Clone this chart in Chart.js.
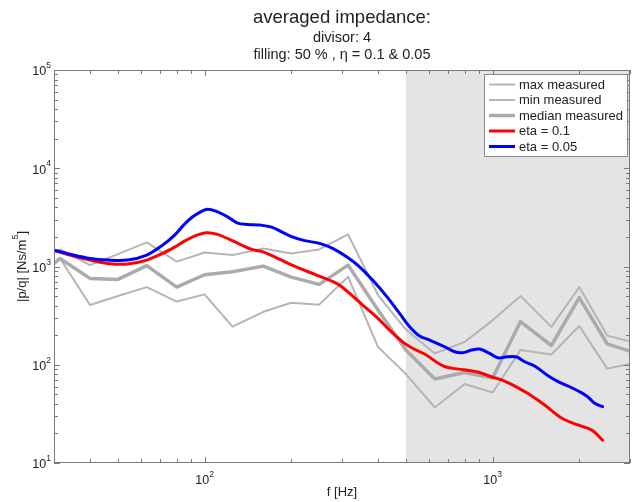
<!DOCTYPE html>
<html><head><meta charset="utf-8">
<script src="https://cdn.jsdelivr.net/npm/chart.js@4.4.1/dist/chart.umd.min.js"></script>
<style>html,body{margin:0;padding:0;background:#fff;}canvas{display:block;}</style>
</head><body>
<canvas id="c" width="633" height="502"></canvas>
<script>
// ---- data ----
const bandFreqs = [25,31.5,40,50,63,80,100,125,160,200,250,315,400,500,630,800,1000,1250,1600,2000,2500,3150];
const maxMeasured = [1033,1493,1033,1337,1758,1122,1390,1306,1528,1358,1493,2123,512,228,130,171,283,500,243,617,198,166];
const minMeasured = [693,1208,405,500,617,440,520,244,346,428,409,785,152,80.4,36.7,63.6,52.1,141,127,248,91.4,105];
const medianMeasured = [693,1208,757,739,1021,617,824,883,1009,780,658,1033,360,141,71.6,83.4,73.3,275,157,483,163,131];

const eta01Freqs = [30,34,40,46,54,63,71.5,78.7,85.2,92.3,101.6,110.9,122.1,134.5,145.7,157.7,175,194.2,213.8,244.8,287.3,318.8,353.8,395.6,438.9,486.9,527.6,580.6,676,793,887,984,1101,1221,1323,1516,1736,1973,2207,2409];
const eta01Values = [1468,1306,1162,1075,1058,1162,1360,1576,1813,2039,2202,2121,1887,1651,1493,1424,1255,1083,957,818,673,532,405,306,225,171,147,128.5,97,88.9,84.3,76.0,68.3,58.6,51.2,38.9,28.7,24.4,21.7,17.1];

const eta005Freqs = [30,34,40,46,54,63,71.5,78.7,85.2,92.3,101.6,110.9,120.2,130.2,141.1,156.5,170.9,185.1,200.5,222.4,250.7,278.3,311.2,345.3,383.1,428.5,475.5,515.1,557.9,604.3,681.3,738.1,786.7,845.6,901.5,976.3,1041,1127,1212,1292,1399,1577,1709,1851,2005,2138,2261,2409];
const eta005Values = [1468,1337,1209,1162,1162,1306,1651,2086,2700,3295,3810,3601,3203,2764,2682,2638,2517,2254,2015,1834,1718,1528,1255,993,727,496,333,243.5,196,178.4,152.5,135.6,132.5,141.1,144.4,130.6,117.8,120.6,119.8,107.3,97.0,75.5,66.2,59.7,53.1,47.3,40.5,37.4];

const xRange = [30, 3000];
const yRange = [10, 100000];
const xTickLabels = [100, 1000];
const yTickLabels = [10, 100, 1000, 10000, 100000];
const shadedRange = [500, 3000];

const titleText = 'averaged impedance:';
const subtitleLines = ['divisor: 4', 'filling: 50 % , \u03B7 = 0.1 & 0.05'];
const xAxisTitle = 'f [Hz]';
const legendLabels = ['max measured','min measured','median measured','eta = 0.1','eta = 0.05'];

// ---- styling ----
const FONT = '"Liberation Sans", Arial, Helvetica, sans-serif';
const GRAY_THIN = '#b5b5b5';
const GRAY_MED = '#ababab';
const TEXT = '#222222';
const AXIS = '#7a7a7a';

function series(label, xs, ys, color, width, tension, order) {
  return {
    label, data: xs.map((x, i) => ({x, y: ys[i]})),
    borderColor: color, backgroundColor: color, borderWidth: width,
    pointRadius: 0, pointHoverRadius: 0, tension, fill: false, clip: 0, order,
    borderJoinStyle: 'round', borderCapStyle: 'round'
  };
}

const datasets = [
  series(legendLabels[0], bandFreqs, maxMeasured, GRAY_THIN, 2, 0, 4),
  series(legendLabels[1], bandFreqs, minMeasured, GRAY_THIN, 2, 0, 3),
  series(legendLabels[2], bandFreqs, medianMeasured, GRAY_MED, 3.5, 0, 2),
  series(legendLabels[3], eta01Freqs, eta01Values, '#ff0000', 3, 0.35, 1),
  series(legendLabels[4], eta005Freqs, eta005Values, '#0000ff', 3, 0.35, 0)
];

function supText(ctx, base, exp, x, y, baseSize, expSize, align) {
  ctx.font = baseSize + 'px ' + FONT;
  const wb = ctx.measureText(base).width;
  ctx.font = expSize + 'px ' + FONT;
  const we = ctx.measureText(exp).width;
  const total = wb + we;
  const x0 = align === 'right' ? x - total : (align === 'center' ? x - total / 2 : x);
  ctx.textAlign = 'left';
  ctx.textBaseline = 'middle';
  ctx.font = baseSize + 'px ' + FONT;
  ctx.fillText(base, x0, y);
  ctx.font = expSize + 'px ' + FONT;
  ctx.fillText(exp, x0 + wb, y - baseSize * 0.5);
}

const decor = {
  id: 'decor',
  beforeDatasetsDraw(chart) {
    const {ctx, chartArea: a, scales: {x}} = chart;
    ctx.save();
    ctx.fillStyle = '#e4e4e4';
    const x0 = x.getPixelForValue(shadedRange[0]);
    const x1 = x.getPixelForValue(shadedRange[1]);
    ctx.fillRect(x0, a.top, x1 - x0, a.bottom - a.top);
    ctx.restore();
  },
  afterDatasetsDraw(chart) {
    const {ctx, chartArea: a, scales: {x, y}} = chart;
    ctx.save();
    ctx.strokeStyle = AXIS;
    ctx.lineWidth = 1;
    ctx.strokeRect(a.left + 0.5, a.top + 0.5, a.right - a.left - 1, a.bottom - a.top - 1);
    ctx.beginPath();
    for (let k = 1; k <= 3; k++) {
      for (let m = 1; m <= 9; m++) {
        const v = m * Math.pow(10, k);
        if (v < xRange[0] || v > xRange[1]) continue;
        const px = Math.round(x.getPixelForValue(v)) + 0.5;
        const len = m === 1 ? 6 : 4;
        ctx.moveTo(px, a.bottom); ctx.lineTo(px, a.bottom - len);
        ctx.moveTo(px, a.top); ctx.lineTo(px, a.top + len);
      }
    }
    for (let k = 1; k <= 5; k++) {
      for (let m = 1; m <= 9; m++) {
        const v = m * Math.pow(10, k);
        if (v < yRange[0] || v > yRange[1]) continue;
        const py = Math.round(y.getPixelForValue(v)) + 0.5;
        const len = m === 1 ? 6 : 4;
        ctx.moveTo(a.left, py); ctx.lineTo(a.left + len, py);
        ctx.moveTo(a.right, py); ctx.lineTo(a.right - len, py);
      }
    }
    ctx.stroke();
    ctx.fillStyle = TEXT;
    yTickLabels.forEach(v => {
      const py = y.getPixelForValue(v);
      supText(ctx, '10', String(Math.round(Math.log10(v))), a.left - 3, py + 2, 12.5, 8.5, 'right');
    });
    xTickLabels.forEach(v => {
      const px = x.getPixelForValue(v);
      supText(ctx, '10', String(Math.round(Math.log10(v))), px, a.bottom + 18, 12.5, 8.5, 'center');
    });
    ctx.textAlign = 'center';
    ctx.textBaseline = 'middle';
    ctx.font = '13px ' + FONT;
    const cx = (a.left + a.right) / 2;
    ctx.fillText(xAxisTitle, cx, 492);
    ctx.save();
    ctx.translate(22, (a.top + a.bottom) / 2);
    ctx.rotate(-Math.PI / 2);
    ctx.font = '13px ' + FONT;
    const p1 = '|p/q| [Ns/m', p3 = ']', p2 = '5';
    const w1 = ctx.measureText(p1).width, w3 = ctx.measureText(p3).width;
    ctx.font = '9px ' + FONT;
    const w2 = ctx.measureText(p2).width;
    const sx = -(w1 + w2 + w3) / 2;
    ctx.textAlign = 'left';
    ctx.font = '13px ' + FONT;
    ctx.fillText(p1, sx, 0);
    ctx.font = '9px ' + FONT;
    ctx.fillText(p2, sx + w1, -6);
    ctx.font = '13px ' + FONT;
    ctx.fillText(p3, sx + w1 + w2, 0);
    ctx.restore();
    ctx.textAlign = 'center';
    ctx.font = '18.5px ' + FONT;
    ctx.fillText(titleText, cx, 18);
    ctx.font = '14.5px ' + FONT;
    ctx.fillText(subtitleLines[0], cx, 37.5);
    ctx.fillText(subtitleLines[1], cx, 55);
    const lx = 484, ly = 74, lw = 143, lh = 82;
    ctx.fillStyle = '#ffffff';
    ctx.fillRect(lx, ly, lw, lh);
    ctx.strokeStyle = '#8a8a8a';
    ctx.lineWidth = 1;
    ctx.strokeRect(lx + 0.5, ly + 0.5, lw, lh);
    const rows = [84.5, 100, 115.5, 131, 146.5];
    chart.data.datasets.forEach((d, i) => {
      ctx.strokeStyle = d.borderColor;
      ctx.lineWidth = d.borderWidth;
      ctx.lineCap = 'butt';
      ctx.beginPath();
      ctx.moveTo(489, rows[i]); ctx.lineTo(515, rows[i]);
      ctx.stroke();
      ctx.fillStyle = TEXT;
      ctx.font = '13px ' + FONT;
      ctx.textAlign = 'left';
      ctx.textBaseline = 'middle';
      ctx.fillText(d.label, 519, rows[i] + 0.5);
    });
    ctx.restore();
  }
};

new Chart(document.getElementById('c'), {
  type: 'line',
  data: { datasets },
  options: {
    responsive: false,
    animation: false,
    events: [],
    layout: { padding: { left: 54, right: 3, top: 70, bottom: 39 } },
    plugins: { legend: { display: false }, title: { display: false }, tooltip: { enabled: false } },
    scales: {
      x: { type: 'logarithmic', min: xRange[0], max: xRange[1], display: false },
      y: { type: 'logarithmic', min: yRange[0], max: yRange[1], display: false }
    }
  },
  plugins: [decor]
});
</script>
</body></html>
